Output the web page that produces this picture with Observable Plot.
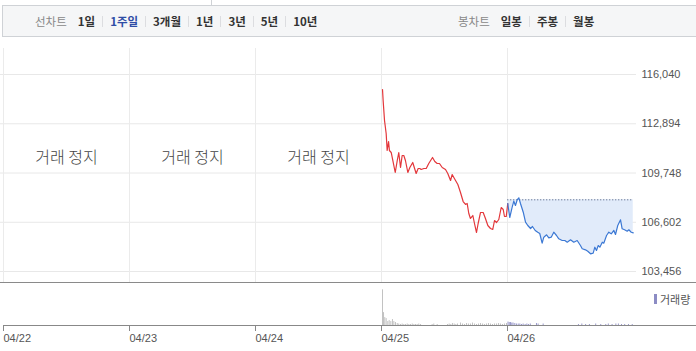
<!DOCTYPE html>
<html><head><meta charset="utf-8">
<script src="https://cdn.jsdelivr.net/npm/d3@7"></script>
<script src="https://cdn.jsdelivr.net/npm/@observablehq/plot@0.6"></script>
<style>
html,body{margin:0;padding:0;background:#fff}
body{width:696px;height:351px;overflow:hidden;position:relative;font-family:"Noto Sans CJK KR",sans-serif}
#topline{position:absolute;left:211px;top:0;width:1px;height:5px;background:#cfd2d6}
#bar{position:absolute;left:2px;top:5px;width:700px;height:32px;box-sizing:border-box;background:#f5f6f7;border:1px solid #cfd2d6}
.grp{position:absolute;top:0;height:30px;display:flex;align-items:center;font-size:11.5px;white-space:nowrap}
.lab{color:#888;margin-right:11px}
.it{color:#333;font-weight:bold}
.it.on{color:#2f4da6}
.sep{width:1px;height:11px;background:#dcdde0;margin:0 7px}
#price{position:absolute;left:0;top:37px}
#volwrap{position:absolute;left:0;top:282px;width:696px;border-top:1px solid #8a8a8a}
#legend{position:absolute;left:654px;top:291px;font-size:11px;color:#555;display:flex;align-items:center}
#legend i{display:inline-block;width:3px;height:10px;background:#8c8cc4;margin-right:3px}
</style></head>
<body>
<div id="topline"></div>
<div id="bar"><div class="grp" id="g1"></div><div class="grp" id="g2"></div></div>
<div id="price"></div>
<div id="volwrap"></div>
<div id="legend"><i></i><span id="legtxt"></span></div>
<script>
// ---- data ----
const lineChartLabel = "선차트";
const periodLabels = ["1일", "1주일", "3개월", "1년", "3년", "5년", "10년"];
const activePeriod = "1주일";
const candleLabel = "봉차트";
const candleLabels = ["일봉", "주봉", "월봉"];
const dayLabels = ["04/22", "04/23", "04/24", "04/25", "04/26"];
const dayTicks = [0, 1, 2, 3, 4];
const haltedDays = [0, 1, 2];
const haltText = "거래 정지";
const priceTicks = [103456, 106602, 109748, 112894, 116040];
const refPrice = 108036;
const volumeLabel = "거래량";

// [day offset from 04/22, price]
const price25 = [
[3.008,115082],[3.013,114379],[3.024,113102],[3.037,112271],[3.045,111185],[3.056,111760],[3.063,111185],[3.077,111058],[3.087,110674],[3.109,109780],
[3.125,110546],[3.137,111058],[3.151,110099],[3.164,110866],[3.177,110866],[3.190,110546],[3.209,109780],[3.225,110099],[3.248,110419],[3.275,109716],
[3.291,110035],[3.304,110035],[3.315,109972],[3.336,110035],[3.355,110035],[3.375,110355],[3.405,110738],[3.423,110483],[3.442,110355],[3.460,110355],
[3.482,110099],[3.508,109972],[3.526,109716],[3.548,109269],[3.561,109652],[3.574,109461],[3.606,109013],[3.627,108502],[3.648,107927],[3.667,107736],
[3.680,107800],[3.693,107161],[3.706,106842],[3.725,107033],[3.738,106522],[3.754,105947],[3.767,106522],[3.786,107225],[3.807,107225],[3.825,106842],
[3.844,106394],[3.865,106203],[3.883,106139],[3.897,106714],[3.913,106586],[3.931,106778],[3.950,107544],[3.966,107416],[3.976,106969],[3.990,106969],
[4.002,107800]
];
const price26 = [
[4.002,107800],[4.018,106905],[4.037,107563],[4.050,107947],[4.063,107672],[4.077,108036],[4.090,108164],[4.103,107800],[4.125,107244],[4.143,106605],
[4.161,106394],[4.183,106203],[4.198,106331],[4.220,106075],[4.240,105966],[4.256,105883],[4.275,105264],[4.288,105647],[4.310,105800],[4.328,105609],
[4.347,105647],[4.367,105966],[4.389,105756],[4.407,105545],[4.434,105436],[4.455,105436],[4.474,105328],[4.500,105481],[4.526,105328],[4.553,105436],
[4.579,105117],[4.593,104906],[4.619,104842],[4.637,104753],[4.659,104587],[4.680,104625],[4.693,105008],[4.706,104798],[4.720,105117],[4.733,105008],
[4.752,105328],[4.764,105264],[4.786,105756],[4.804,105966],[4.823,105864],[4.844,106075],[4.857,105820],[4.875,106394],[4.897,106758],[4.910,106184],
[4.929,106120],[4.950,106030],[4.963,106120],[4.982,105966],[4.998,105928]
];
// [day offset, volume]
const volume25 = [
[3.008,3600],[3.016,1300],[3.026,800],[3.037,700],[3.050,400],[3.061,500],[3.074,400],[3.087,600],[3.098,400],[3.111,300],
[3.125,200],[3.137,150],[3.151,100],[3.164,150],[3.177,100],[3.190,100],[3.204,150],[3.217,100],[3.230,100],[3.244,150],
[3.257,100],[3.270,100],[3.283,100],[3.296,150],[3.310,100],[3.402,100],[3.415,150],[3.442,100],[3.524,100],[3.537,150],
[3.550,100],[3.563,200],[3.577,150],[3.590,100],[3.603,150],[3.627,250],[3.643,150],[3.659,100],[3.675,200],[3.690,150],
[3.706,150],[3.722,250],[3.738,150],[3.754,100],[3.770,150],[3.786,200],[3.802,150],[3.817,100],[3.833,150],[3.849,200],
[3.865,150],[3.881,100],[3.897,150],[3.913,150],[3.929,200],[3.944,150],[3.960,100],[3.976,150],[3.992,200]
];
const volume26 = [
[4.004,350],[4.014,300],[4.024,300],[4.034,250],[4.044,250],[4.058,200],[4.071,150],[4.085,150],[4.098,150],[4.111,100],
[4.124,150],[4.140,100],[4.154,150],[4.167,100],[4.181,150],[4.230,200],[4.243,150],[4.283,150],[4.563,100],[4.590,150],
[4.620,100],[4.650,100],[4.700,150],[4.740,100],[4.780,100],[4.800,150],[4.830,100],[4.860,150],[4.880,150],[4.905,100],
[4.930,100],[4.960,100],[4.990,100]
];

// ---- top bar ----
function fillGroup(el, left, label, items, active) {
  el.style.left = left + "px";
  const l = document.createElement("span"); l.className = "lab"; l.textContent = label; el.appendChild(l);
  items.forEach((t, i) => {
    if (i > 0) { const s = document.createElement("span"); s.className = "sep"; el.appendChild(s); }
    const s = document.createElement("span"); s.className = "it" + (t === active ? " on" : ""); s.textContent = t; el.appendChild(s);
  });
}
fillGroup(document.getElementById("g1"), 32, lineChartLabel, periodLabels, activePeriod);
fillGroup(document.getElementById("g2"), 455, candleLabel, candleLabels, null);
document.getElementById("legtxt").textContent = volumeLabel;

// ---- price chart ----
const priceChart = Plot.plot({
  width: 696, height: 245,
  marginLeft: 3, marginRight: 63, marginTop: 37, marginBottom: 11,
  style: {fontFamily: "'Liberation Sans', Arial, sans-serif", fontSize: "11px", color: "#555", background: "transparent"},
  x: {domain: [0, 5], axis: null},
  y: {domain: [103456, 116040], axis: "right", ticks: priceTicks, tickSize: 0, tickPadding: 8, tickFormat: d3.format(","), label: null},
  marks: [
    Plot.ruleY(priceTicks, {stroke: "#e8e8e8", insetLeft: -3, insetRight: -3}),
    Plot.ruleX(dayTicks, {stroke: "#ebebeb", insetTop: -26, insetBottom: -11}),
    Plot.text(haltedDays, {x: d => d + 0.5, text: () => haltText, frameAnchor: "middle", dy: -15, fontSize: 16, fill: "#444", fontWeight: 300, fontFamily: "'Noto Sans CJK KR', sans-serif"}),
    Plot.areaY(price26, {x: d => d[0], y1: () => refPrice, y2: d => d[1], fill: "#e1ebfa", curve: "linear"}),
    Plot.ruleY([{y: refPrice, x1: price26[0][0], x2: 5}], {y: "y", x1: "x1", x2: "x2", stroke: "#4b5878", strokeDasharray: "1,2"}),
    Plot.line(price25, {x: d => d[0], y: d => d[1], stroke: "#e3373b", strokeWidth: 1.2}),
    Plot.line(price26, {x: d => d[0], y: d => d[1], stroke: "#3b78d4", strokeWidth: 1.2})
  ]
});
document.getElementById("price").appendChild(priceChart);

// ---- volume chart ----
const volChart = Plot.plot({
  width: 696, height: 68,
  marginLeft: 3, marginRight: 63, marginTop: 0, marginBottom: 26,
  style: {fontFamily: "'Liberation Sans', Arial, sans-serif", fontSize: "11px", color: "#555", background: "transparent", overflow: "visible"},
  x: {domain: [0, 5]},
  y: {domain: [0, 4240], axis: null},
  marks: [
    Plot.ruleX(volume25, {x: d => d[0], y1: () => 0, y2: d => d[1], stroke: "#c2c2c2"}),
    Plot.ruleX(volume26, {x: d => d[0], y1: () => 0, y2: d => d[1], stroke: "#9a9acb"}),
    Plot.ruleY([0], {stroke: "#888", insetRight: -63}),
    Plot.axisX(dayTicks, {tickFormat: i => dayLabels[i], textAnchor: "start", tickSize: 6, tickPadding: 3, stroke: "#888", fill: "#555", label: null})
  ]
});
document.getElementById("volwrap").appendChild(volChart);
</script>
</body></html>
